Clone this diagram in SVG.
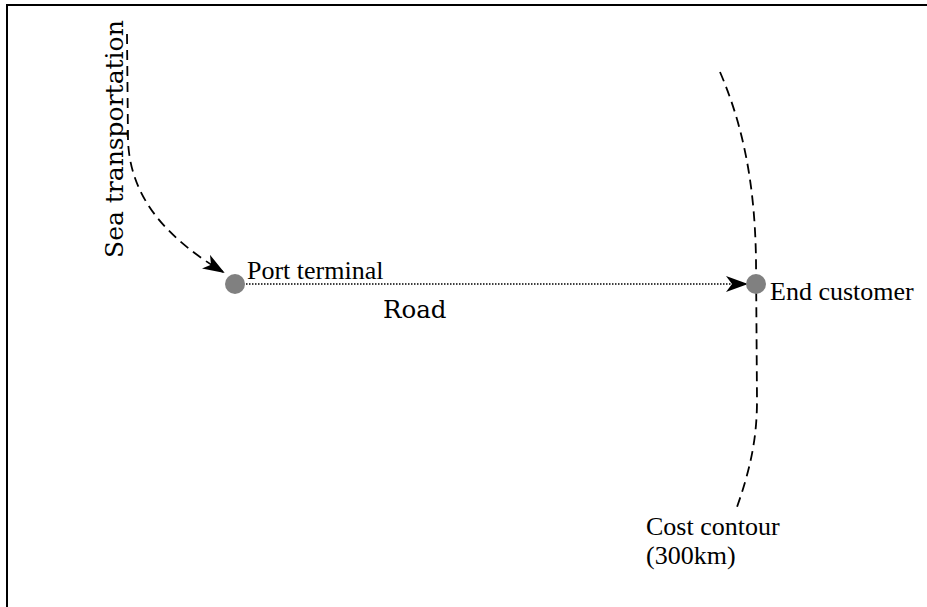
<svg xmlns="http://www.w3.org/2000/svg" width="927" height="607" viewBox="0 0 927 607">
  <style>
    .frame { stroke: #000; stroke-width: 2; fill: none; }
    .dash { stroke: #000; stroke-width: 1.8; fill: none; stroke-dasharray: 10 6; }
    .dot { stroke: #000; stroke-width: 1.4; fill: none; stroke-dasharray: 1.5 1.5; }
    .node { fill: #808080; }
    .lbl { font-family: "Liberation Serif", "Times New Roman", serif; font-size: 26px; fill: #000; }
    .lbl2 { font-family: "DejaVu Serif", serif; fill: #000; }
  </style>
  <defs>
    <marker id="arrow" viewBox="0 0 22 16" refX="20" refY="8" markerWidth="22" markerHeight="16" markerUnits="userSpaceOnUse" orient="auto">
      <path d="M0,0 L22,8 L0,16 L6,8 Z" fill="#000"/>
    </marker>
  </defs>
  <rect width="927" height="607" fill="#fff"/>
  <!-- frame -->
  <path class="frame" d="M7,607 V5 H927"/>

  <g id="connectors">
    <path id="sea" class="dash" d="M127,34 L128,140 C130,200 170,240 223,272" marker-end="url(#arrow)"/>
    <path id="road" class="dot" d="M246,284 H746" marker-end="url(#arrow)"/>
    <path id="contour" class="dash" d="M720,72 C745,130 755,190 756,260 L757,400 C757,440 750,470 736,510"/>
  </g>

  <g id="port-terminal">
    <circle class="node" cx="235" cy="284" r="10"/>
    <text class="lbl" x="247" y="279">Port terminal</text>
  </g>
  <g id="end-customer">
    <circle class="node" cx="756" cy="284" r="10"/>
    <text class="lbl" x="770" y="300">End customer</text>
  </g>
  <g id="sea-label">
    <text class="lbl2" transform="translate(123,258) rotate(-90)" font-size="25">Sea transportation</text>
  </g>
  <g id="road-label">
    <text class="lbl2" x="383" y="318" font-size="24.5">Road</text>
  </g>
  <g id="contour-label">
    <text class="lbl" x="646" y="535">Cost contour</text>
    <text class="lbl" x="646" y="564">(300km)</text>
  </g>
</svg>
